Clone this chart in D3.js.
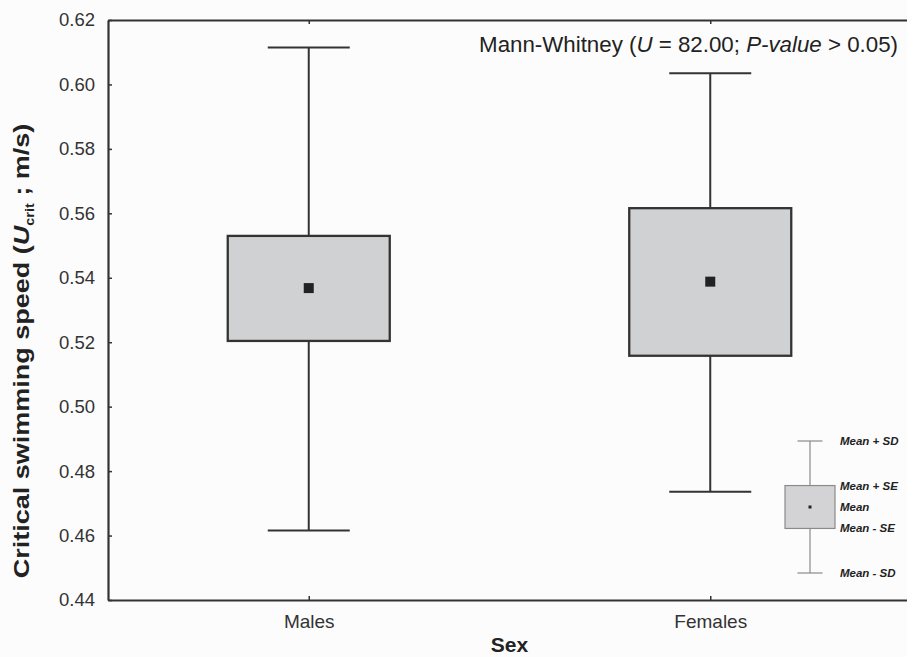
<!DOCTYPE html>
<html>
<head>
<meta charset="utf-8">
<script src="https://cdn.jsdelivr.net/npm/d3@7"></script>
<style>
  body { margin: 0; background: #fcfcfc; }
  svg { font-family: "Liberation Sans", Arial, sans-serif; }
</style>
</head>
<body>
<svg id="chart" width="907" height="657"></svg>
<script>
// groups on the x axis
var groups = ["Males", "Females"];
// mean, +/- SE and +/- SD per group (m/s)
var means  = [0.5368, 0.5388];
var seHigh = [0.5530, 0.5616];
var seLow  = [0.5204, 0.5158];
var sdHigh = [0.6115, 0.6035];
var sdLow  = [0.4616, 0.4736];
// y ticks
var yTicks = [0.44, 0.46, 0.48, 0.50, 0.52, 0.54, 0.56, 0.58, 0.60, 0.62];
// legend key
var keyLabels = ["Mean + SD", "Mean + SE", "Mean", "Mean - SE", "Mean - SD"];
var keyValues = [4, 2.65, 2, 1.35, 0];

var svg = d3.select("#chart");

// plot config
var x0 = 108, x1 = 911, y0 = 20, y1 = 600;
var boxHalf = 81;   // half box width
var capHalf = 41;   // half whisker cap width
var lineColor = "#333";
var boxFill = "#d0d1d3";

var x = d3.scalePoint().domain(groups).range([x0, x1]).padding(0.5);
var y = d3.scaleLinear().domain([0.44, 0.62]).range([y1, y0]);

// axes, ticks pointing inward
var gLeft = svg.append("g")
    .attr("transform", "translate(" + x0 + ",0)")
    .call(d3.axisLeft(y).tickValues(yTicks).tickFormat(d3.format(".2f"))
        .tickSizeInner(-4).tickSizeOuter(0).tickPadding(13));
var gBottom = svg.append("g")
    .attr("transform", "translate(0," + y1 + ")")
    .call(d3.axisBottom(x).tickSizeInner(-4).tickSizeOuter(0).tickPadding(15));
var gTop = svg.append("g")
    .attr("transform", "translate(0," + y0 + ")")
    .call(d3.axisTop(x).tickSizeInner(-4).tickSizeOuter(0).tickFormat(""));
var gRight = svg.append("g")
    .attr("transform", "translate(" + x1 + ",0)")
    .call(d3.axisRight(y).tickValues(yTicks).tickSizeInner(-4).tickSizeOuter(0).tickFormat(""));

[gLeft, gBottom, gTop, gRight].forEach(function(g) {
    g.select(".domain").attr("stroke", lineColor).attr("stroke-width", 2.2);
    g.selectAll(".tick line").attr("stroke", lineColor).attr("stroke-width", 1.5);
    g.selectAll(".tick text").attr("fill", "#333").style("font-size", "18.5px");
});
gBottom.selectAll(".tick text").style("font-size", "19px");

// boxes
var box = svg.append("g").selectAll("g.box")
    .data(groups)
    .enter()
    .append("g")
    .attr("class", "box");

// whisker stems
box.append("line")
    .attr("x1", function(d) { return x(d); })
    .attr("x2", function(d) { return x(d); })
    .attr("y1", function(d, i) { return y(sdHigh[i]); })
    .attr("y2", function(d, i) { return y(sdLow[i]); })
    .attr("stroke", lineColor).attr("stroke-width", 2);

// caps
[sdHigh, sdLow].forEach(function(arr) {
    box.append("line")
        .attr("x1", function(d) { return x(d) - capHalf; })
        .attr("x2", function(d) { return x(d) + capHalf; })
        .attr("y1", function(d, i) { return y(arr[i]); })
        .attr("y2", function(d, i) { return y(arr[i]); })
        .attr("stroke", lineColor).attr("stroke-width", 2);
});

// SE box
box.append("rect")
    .attr("x", function(d) { return x(d) - boxHalf; })
    .attr("width", boxHalf * 2)
    .attr("y", function(d, i) { return y(seHigh[i]); })
    .attr("height", function(d, i) { return y(seLow[i]) - y(seHigh[i]); })
    .attr("fill", boxFill)
    .attr("stroke", lineColor).attr("stroke-width", 2.3);

// mean marker
box.append("rect")
    .attr("x", function(d) { return x(d) - 5; })
    .attr("y", function(d, i) { return y(means[i]) - 5; })
    .attr("width", 10).attr("height", 10)
    .attr("fill", "#222");

// annotation
var note = svg.append("text")
    .attr("x", 898).attr("y", 52)
    .attr("text-anchor", "end")
    .attr("fill", "#222")
    .style("font-size", "22.3px");
note.append("tspan").text("Mann-Whitney (");
note.append("tspan").style("font-style", "italic").text("U");
note.append("tspan").text(" = 82.00; ");
note.append("tspan").style("font-style", "italic").text("P-value");
note.append("tspan").text(" > 0.05)");

// axis titles
svg.append("text")
    .attr("x", (x0 + x1) / 2).attr("y", 652)
    .attr("text-anchor", "middle")
    .attr("fill", "#222")
    .style("font-size", "21px").style("font-weight", "bold")
    .text("Sex");

var yLab = svg.append("text")
    .attr("transform", "translate(29,351) rotate(-90) scale(1.2,1)")
    .attr("text-anchor", "middle")
    .attr("fill", "#222")
    .style("font-size", "22.5px").style("font-weight", "bold");
yLab.append("tspan").text("Critical swimming speed (");
yLab.append("tspan").style("font-style", "italic").text("U");
yLab.append("tspan").attr("dy", 5).style("font-size", "12px").text("crit");
yLab.append("tspan").attr("dy", -5).text(" ; m/s)");

// legend key
var ky = d3.scaleLinear().domain([0, 4]).range([573, 441]);
var kx = 810, kColor = "#8a8a8a";
var key = svg.append("g");
key.append("line")
    .attr("x1", kx).attr("x2", kx)
    .attr("y1", ky(keyValues[0])).attr("y2", ky(keyValues[4]))
    .attr("stroke", kColor).attr("stroke-width", 1.2);
[keyValues[0], keyValues[4]].forEach(function(v) {
    key.append("line")
        .attr("x1", kx - 12.5).attr("x2", kx + 12.5)
        .attr("y1", ky(v)).attr("y2", ky(v))
        .attr("stroke", kColor).attr("stroke-width", 1.2);
});
key.append("rect")
    .attr("x", kx - 25).attr("width", 50)
    .attr("y", ky(keyValues[1]))
    .attr("height", ky(keyValues[3]) - ky(keyValues[1]))
    .attr("fill", "#d3d3d5")
    .attr("stroke", kColor).attr("stroke-width", 1.2);
key.append("rect")
    .attr("x", kx - 1.5).attr("y", ky(keyValues[2]) - 1.5)
    .attr("width", 3).attr("height", 3)
    .attr("fill", "#222");
key.selectAll("text")
    .data(keyLabels)
    .enter()
    .append("text")
    .attr("x", 840)
    .attr("y", function(d, i) { return ky(keyValues[i]); })
    .attr("dy", "0.35em")
    .attr("fill", "#222")
    .style("font-size", "11.5px").style("font-weight", "bold").style("font-style", "italic")
    .text(function(d) { return d; });
</script>
</body>
</html>
